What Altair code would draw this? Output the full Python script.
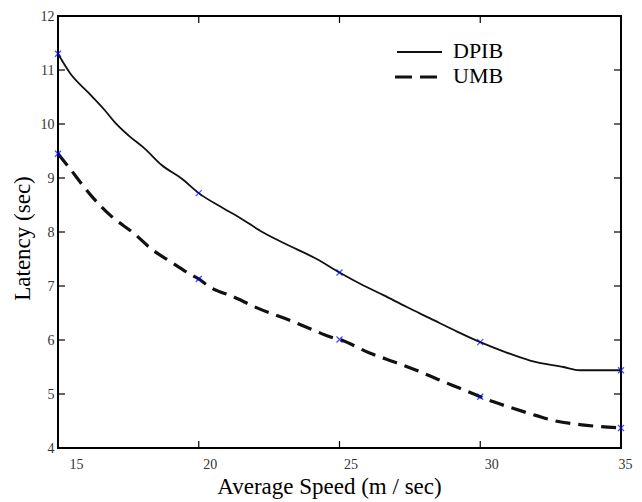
import altair as alt
import pandas as pd

# ---- data ----
dpib_x = [15, 15.43, 16.08, 16.67, 17.02, 17.5, 18.09, 18.68, 19.39, 20, 20.87, 21.47, 22.29, 23.24,
          24.19, 25, 25.85, 26.56, 27.39, 28.22, 29.16, 30, 30.82, 31.77, 32.95, 33.54, 35]
dpib_y = [11.30, 10.94, 10.58, 10.25, 10.03, 9.79, 9.54, 9.24, 8.99, 8.72, 8.44, 8.26, 7.99, 7.74,
          7.50, 7.25, 7.01, 6.83, 6.61, 6.40, 6.16, 5.96, 5.79, 5.62, 5.50, 5.44, 5.44]
umb_x = [15, 15.37, 16.2, 16.9, 17.73, 18.33, 19.0, 19.69, 20, 20.4, 21.23, 22.05, 23.3, 24.0,
         24.66, 25, 26.07, 27.02, 27.73, 28.5, 29.3, 30, 30.5, 31.07, 32.0, 32.6, 33.78, 35]
umb_y = [9.45, 9.21, 8.66, 8.29, 7.96, 7.68, 7.45, 7.22, 7.13, 6.98, 6.80, 6.60, 6.35, 6.20,
         6.06, 6.01, 5.76, 5.58, 5.44, 5.27, 5.10, 4.95, 4.85, 4.75, 4.60, 4.51, 4.42, 4.37]
marker_x = [15, 20, 25, 30, 35]
dpib_m = [11.30, 8.72, 7.25, 5.96, 5.44]
umb_m = [9.45, 7.13, 6.01, 4.95, 4.37]
series = ["DPIB", "UMB"]
x_ticks = [15, 20, 25, 30, 35]
y_ticks = [4, 5, 6, 7, 8, 9, 10, 11, 12]

W, H = 563, 432
FONT = "Liberation Serif"

xs = alt.Scale(domain=[15, 35], nice=False, zero=False)
ys = alt.Scale(domain=[4, 12], nice=False, zero=False)

dpib = pd.DataFrame({"x": dpib_x, "y": dpib_y})
umb = pd.DataFrame({"x": umb_x, "y": umb_y})
marks = pd.DataFrame({"x": marker_x * 2, "y": dpib_m + umb_m})

X = alt.X("x:Q", scale=xs, axis=alt.Axis(values=x_ticks, title="Average Speed (m / sec)",
                                         labelOffset=11, labelPadding=9, titleX=271, titleY=45,
                                         titleBaseline="alphabetic"))
Y = alt.Y("y:Q", scale=ys, axis=alt.Axis(values=y_ticks, title="Latency (sec)", labelPadding=4,
                                         titleX=-36, titleY=222, titleBaseline="middle",
                                         titleAngle=-90))

line_d = alt.Chart(dpib).mark_line(color="#111111", strokeWidth=1.8, interpolate="monotone").encode(x=X, y=Y)
line_u = alt.Chart(umb).mark_line(color="#111111", strokeWidth=3.2, strokeDash=[15, 8],
                                  interpolate="monotone").encode(x="x:Q", y="y:Q")

xshape = "M-1,-1L1,1M-1,1L1,-1"
pts = alt.Chart(marks).mark_point(shape=xshape, size=36, color="#0000ff", strokeWidth=1.3,
                                  filled=False).encode(x="x:Q", y="y:Q")

# inward ticks on all four sides
xt = pd.DataFrame({"x": x_ticks[1:-1]})
yt = pd.DataFrame({"y": y_ticks[1:-1]})
tb = alt.Chart(xt).mark_rule(color="black", strokeWidth=1.2).encode(x="x:Q", y=alt.value(H), y2=alt.value(H - 7))
tt = alt.Chart(xt).mark_rule(color="black", strokeWidth=1.2).encode(x="x:Q", y=alt.value(0), y2=alt.value(7))
tl = alt.Chart(yt).mark_rule(color="black", strokeWidth=1.2).encode(y="y:Q", x=alt.value(0), x2=alt.value(7))
tr = alt.Chart(yt).mark_rule(color="black", strokeWidth=1.2).encode(y="y:Q", x=alt.value(W), x2=alt.value(W - 7))

# legend
leg = pd.DataFrame({"name": series})
leg_d_line = alt.Chart(leg[leg.name == "DPIB"]).mark_rule(color="#111111", strokeWidth=1.8).encode(
    x=alt.value(339), x2=alt.value(384), y=alt.value(36))
leg_u_line = alt.Chart(leg[leg.name == "UMB"]).mark_rule(color="#111111", strokeWidth=3.2, strokeDash=[17, 8]).encode(
    x=alt.value(337), x2=alt.value(380), y=alt.value(61))
leg_d_txt = alt.Chart(leg[leg.name == "DPIB"]).mark_text(font=FONT, fontSize=22, align="left",
                                                         baseline="alphabetic", color="black").encode(
    text="name:N", x=alt.value(395), y=alt.value(42))
leg_u_txt = alt.Chart(leg[leg.name == "UMB"]).mark_text(font=FONT, fontSize=22, align="left",
                                                        baseline="alphabetic", color="black").encode(
    text="name:N", x=alt.value(395), y=alt.value(67))

chart = alt.layer(line_d, line_u, pts, tb, tt, tl, tr, leg_d_line, leg_u_line, leg_d_txt, leg_u_txt).properties(
    width=W, height=H,
    autosize=alt.AutoSizeParams(type="none"),
    padding={"left": 50, "top": 8, "right": 13, "bottom": 54},
).configure_view(stroke="black", strokeWidth=2).configure_axis(
    domain=False, ticks=False, grid=False,
    labelFont=FONT, labelFontSize=14, labelColor="#333333",
    titleFont=FONT, titleFontSize=23, titleFontWeight="normal", titleColor="black",
)

chart.save("out.html", embed_options={"renderer": "svg", "actions": False})
